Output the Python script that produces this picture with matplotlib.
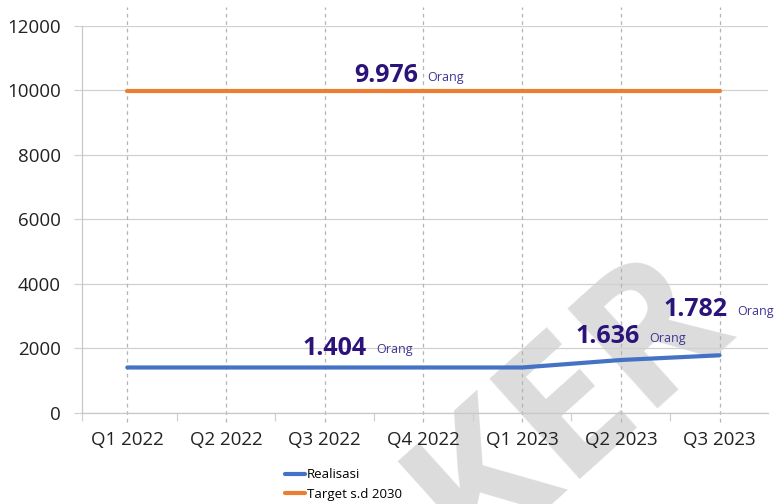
import matplotlib.pyplot as plt

quarters = ["Q1 2022", "Q2 2022", "Q3 2022", "Q4 2022", "Q1 2023", "Q2 2023", "Q3 2023"]
realisasi = [1404, 1404, 1404, 1404, 1404, 1636, 1782]
target = [9976, 9976, 9976, 9976, 9976, 9976, 9976]
y_ticks = [0, 2000, 4000, 6000, 8000, 10000, 12000]

# value labels: (series, category index) and offset of the label in points
labels = [(target, 2), (realisasi, 2), (realisasi, 5), (realisasi, 6)]
label_offsets = [(21, 11), (-16, 14), (-33, 17), (-40, 33)]

plt.rcParams['font.family'] = ['Open Sans', 'DejaVu Sans']

fig = plt.figure(figsize=(7.8, 5.04), dpi=100)
ax = fig.add_axes([0.105, 0.181, 0.8795, 0.768])
ax.patch.set_alpha(0)

x = list(range(len(quarters)))

# watermark
fig.text(0.73, 0.192, "KER", fontsize=135, fontweight='bold', color='#dcdcdc',
         rotation=42, ha='center', va='center', zorder=-1)

ax.plot(x, realisasi, color='#4472C4', lw=3, solid_capstyle='round', label='Realisasi', zorder=3)
ax.plot(x, target, color='#ED7D31', lw=3, solid_capstyle='round', label='Target s.d 2030', zorder=3)

# dashed vertical lines at each quarter, reaching beyond the plot area
for xi in x:
    ax.axvline(xi, ymin=-0.025, ymax=1.048, color='#b4b4b4', lw=0.9, ls=(0, (3, 3)),
               clip_on=False, zorder=1)

ax.set_xlim(-0.46, 6.49)
ax.set_ylim(0, 12000)
ax.set_yticks(y_ticks)
ax.set_yticklabels([str(v) for v in y_ticks])
ax.yaxis.grid(True, color='#d0d0d0', lw=0.9)
ax.set_axisbelow(True)

ax.set_xticks(x)
ax.set_xticklabels(quarters)
ax.set_xticks([xi + 0.5 for xi in x[:-1]] + [-0.46], minor=True)
ax.tick_params(axis='x', which='major', length=0, pad=13, labelsize=13.5, colors='#222222')
ax.tick_params(axis='x', which='minor', length=6, color='#d0d0d0', width=0.9)
ax.tick_params(axis='y', length=6, color='#d0d0d0', width=0.9, pad=9, labelsize=13.5, colors='#222222')

for side in ['top', 'right']:
    ax.spines[side].set_visible(False)
ax.spines['left'].set_color('#c8c8c8')
ax.spines['bottom'].set_color('#c8c8c8')
ax.spines['left'].set_linewidth(0.9)
ax.spines['bottom'].set_linewidth(0.9)

for (series, i), (dx, dy) in zip(labels, label_offsets):
    v = series[i]
    num = ax.annotate(f"{v:,}".replace(",", "."), xy=(i, v), xytext=(dx, dy),
                      textcoords='offset points', ha='left', va='center',
                      fontsize=18, fontweight='bold', color='#2B137A', zorder=4)
    ax.annotate("Orang", xy=(1, 0), xycoords=num, xytext=(7, 3),
                textcoords='offset points', ha='left', va='bottom',
                fontsize=9, color='#3E3592', zorder=4)

ax.legend(loc='upper left', bbox_to_anchor=(0.366, 0.071), bbox_transform=fig.transFigure,
          frameon=False, fontsize=9.5, handlelength=1.45, handletextpad=0.15,
          labelspacing=0.5, borderpad=0, borderaxespad=0)

plt.savefig('out.png', dpi=100)
